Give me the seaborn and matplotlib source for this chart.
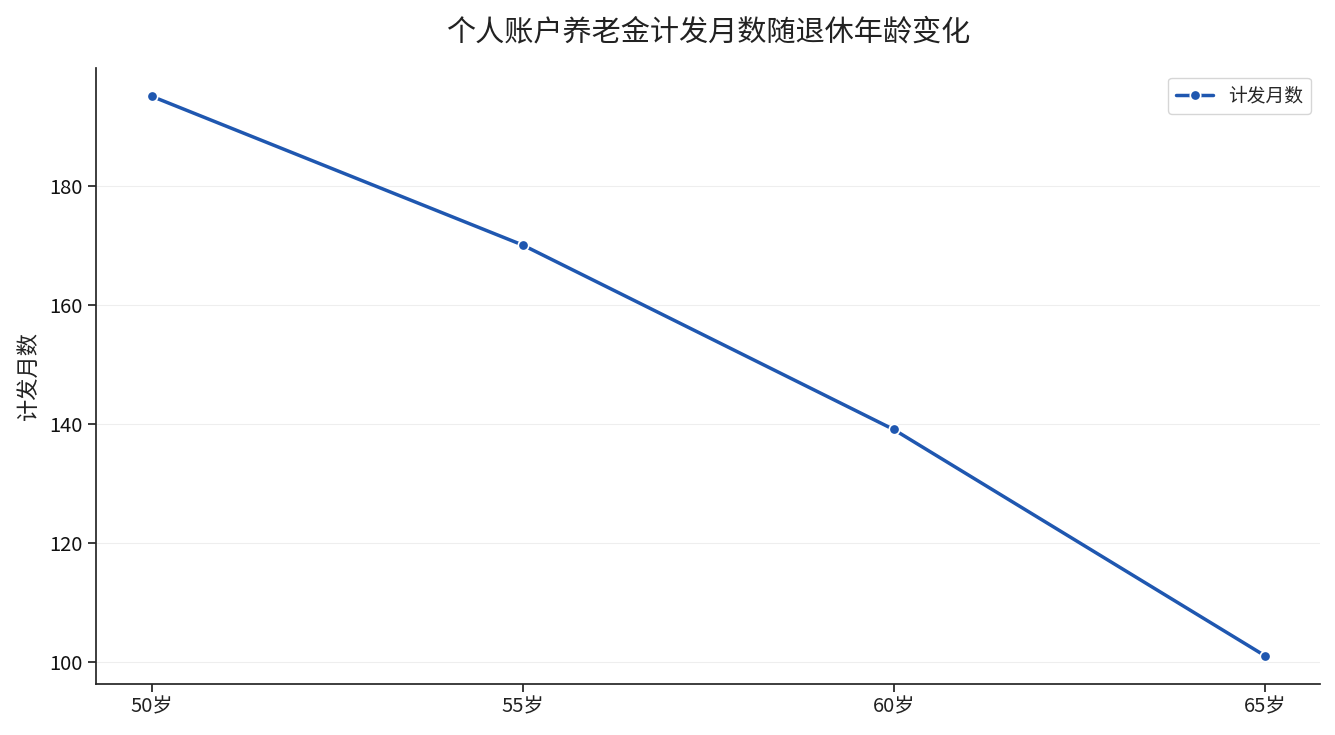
import matplotlib
matplotlib.use("Agg")
import matplotlib.pyplot as plt
import seaborn as sns
import pandas as pd

ages = ["50岁", "55岁", "60岁", "65岁"]
months = [195, 170, 139, 101]
series_name = "计发月数"

sns.set_theme(style="ticks")
plt.rcParams['font.family'] = ['Noto Sans CJK SC', 'DejaVu Sans']

df = pd.DataFrame({"age": ages, "months": months, "series": series_name})
fig, ax = plt.subplots(figsize=(13.35, 7.35), dpi=100)
sns.lineplot(data=df, x="age", y="months", hue="series", palette=["#1f57b0"],
             marker="o", markersize=7.5, markeredgecolor="white", markeredgewidth=1.2,
             linewidth=2.5, ax=ax, sort=False)
ax.set_title("个人账户养老金计发月数随退休年龄变化", fontsize=21, pad=20, color="#222222")
ax.set_xlabel("")
ax.set_ylabel("计发月数", fontsize=16, labelpad=7, color="#222222")
ax.tick_params(labelsize=14.5, colors="#222222")
ax.tick_params(axis="y", labelcolor="#111111")
ax.yaxis.grid(True, color="#eeeeee", linewidth=0.8)
ax.set_axisbelow(True)
sns.despine(ax=ax)
ax.legend(loc="upper right", fontsize=13.5, frameon=True)
fig.subplots_adjust(left=0.072, right=0.989, top=0.907, bottom=0.07)
fig.savefig("out.png", dpi=100)
